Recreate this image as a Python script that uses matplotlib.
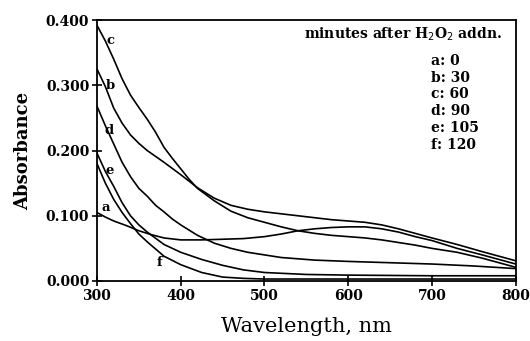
import matplotlib
matplotlib.use("Agg")
import matplotlib.pyplot as plt

# absorbance spectra (wavelength nm -> absorbance)
wl_a = [300, 310, 320, 335, 350, 365, 380, 400, 425, 450, 475, 500, 520, 540, 560, 580, 600, 620, 640, 660, 680, 700, 730, 760, 800]
abs_a = [0.105, 0.098, 0.092, 0.085, 0.077, 0.071, 0.066, 0.063, 0.063, 0.064, 0.065, 0.068, 0.072, 0.077, 0.080, 0.082, 0.083, 0.083, 0.080, 0.075, 0.068, 0.062, 0.050, 0.040, 0.026]

wl_b = [300, 310, 320, 330, 340, 350, 360, 380, 400, 420, 440, 460, 480, 500, 520, 540, 560, 580, 600, 620, 640, 660, 680, 700, 730, 760, 800]
abs_b = [0.325, 0.298, 0.265, 0.242, 0.224, 0.211, 0.200, 0.182, 0.163, 0.143, 0.127, 0.116, 0.110, 0.106, 0.103, 0.100, 0.097, 0.094, 0.092, 0.090, 0.086, 0.080, 0.073, 0.066, 0.056, 0.045, 0.031]

wl_c = [300, 310, 320, 330, 340, 350, 360, 370, 380, 390, 400, 410, 420, 440, 460, 480, 500, 520, 540, 560, 580, 600, 620, 640, 660, 680, 700, 730, 760, 800]
abs_c = [0.392, 0.368, 0.340, 0.310, 0.285, 0.266, 0.248, 0.228, 0.205, 0.188, 0.172, 0.156, 0.142, 0.123, 0.107, 0.097, 0.090, 0.083, 0.077, 0.073, 0.070, 0.068, 0.066, 0.063, 0.059, 0.055, 0.050, 0.044, 0.035, 0.021]

wl_d = [300, 310, 320, 330, 340, 350, 360, 370, 380, 390, 400, 420, 440, 460, 480, 500, 520, 560, 600, 650, 700, 750, 800]
abs_d = [0.268, 0.238, 0.210, 0.182, 0.160, 0.142, 0.130, 0.116, 0.106, 0.095, 0.086, 0.070, 0.058, 0.050, 0.044, 0.040, 0.036, 0.032, 0.030, 0.028, 0.026, 0.023, 0.019]

wl_e = [300, 310, 320, 330, 340, 350, 360, 380, 400, 425, 450, 475, 500, 550, 600, 700, 800]
abs_e = [0.196, 0.168, 0.145, 0.120, 0.100, 0.086, 0.075, 0.056, 0.044, 0.033, 0.024, 0.017, 0.013, 0.010, 0.009, 0.008, 0.008]

wl_f = [300, 310, 320, 330, 340, 350, 360, 380, 400, 425, 450, 475, 500, 600, 800]
abs_f = [0.180, 0.150, 0.125, 0.105, 0.088, 0.072, 0.060, 0.038, 0.025, 0.013, 0.006, 0.004, 0.003, 0.003, 0.003]

curve_names = ["a", "b", "c", "d", "e", "f"]
minutes = ["0", "30", "60", "90", "105", "120"]
# curve letter positions (nm, absorbance)
label_x = [310.5, 316.5, 316.5, 314, 315.5, 375]
label_y = [0.112, 0.300, 0.368, 0.231, 0.170, 0.029]

serif = "DejaVu Serif"

fig = plt.figure(figsize=(5.30, 3.41), dpi=100)
ax = fig.add_axes([0.183, 0.176, 0.790, 0.765])

for wl, ab in [(wl_a, abs_a), (wl_b, abs_b), (wl_c, abs_c), (wl_d, abs_d), (wl_e, abs_e), (wl_f, abs_f)]:
    ax.plot(wl, ab, color="black", lw=1.2)

for name, lx, ly in zip(curve_names, label_x, label_y):
    ax.text(lx, ly, name, family=serif, fontweight="bold", fontsize=9.5,
            ha="center", va="center")

ax.set_xlim(300, 800)
ax.set_ylim(0, 0.4)
ax.set_xticks([300, 400, 500, 600, 700, 800])
ax.set_yticks([0.0, 0.1, 0.2, 0.3, 0.4])
ax.set_yticklabels(["0.000", "0.100", "0.200", "0.300", "0.400"])
ax.tick_params(direction="inout", length=7, width=1.2, top=False, right=False, pad=2)
for lab in ax.get_xticklabels() + ax.get_yticklabels():
    lab.set_family(serif)
    lab.set_fontweight("bold")
    lab.set_fontsize(10)
for sp in ax.spines.values():
    sp.set_linewidth(1.3)

ax.set_xlabel("Wavelength, nm", family=serif, fontsize=15, labelpad=10)
ax.set_ylabel("Absorbance", family=serif, fontweight="bold", fontsize=13, labelpad=10)

ax.text(0.968, 0.945, "minutes after H$_2$O$_2$ addn.", transform=ax.transAxes,
        family=serif, fontweight="bold", fontsize=10, ha="right", va="center")
for i, (name, m) in enumerate(zip(curve_names, minutes)):
    ax.text(0.797, 0.845 - i * 0.065, name + ": " + m, transform=ax.transAxes,
            family=serif, fontweight="bold", fontsize=10, ha="left", va="center")

fig.savefig("out.png", dpi=100)
